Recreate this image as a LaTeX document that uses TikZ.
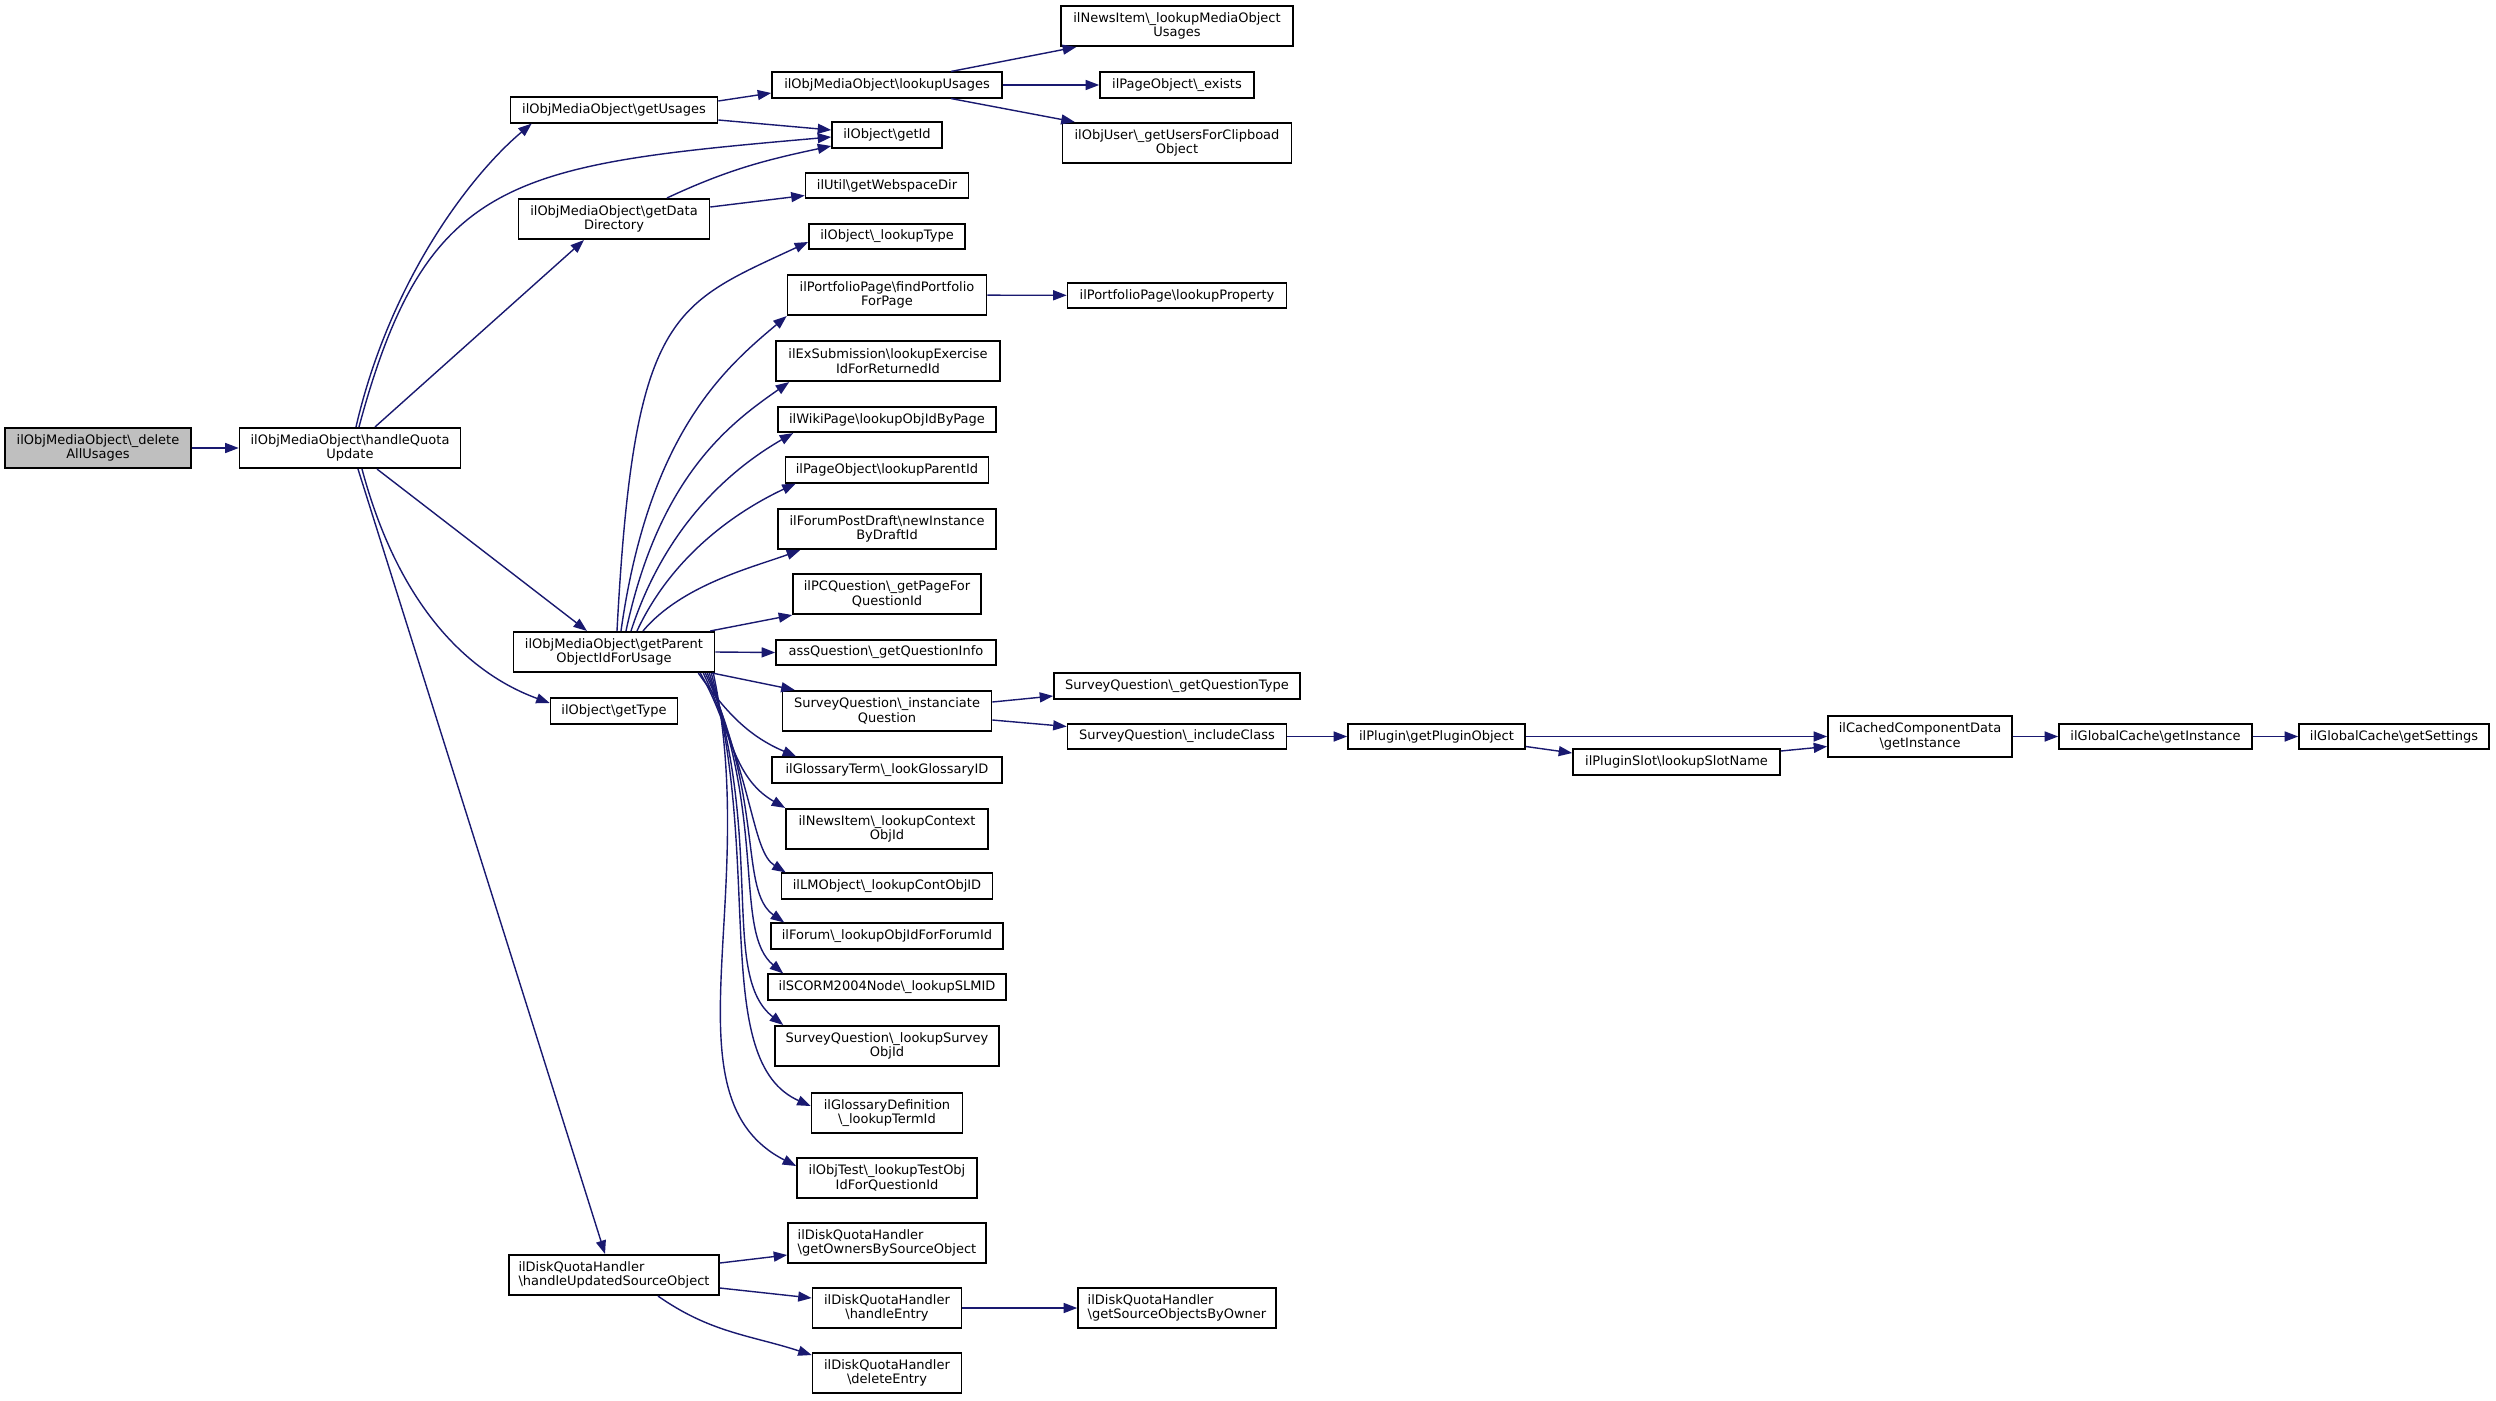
\documentclass[tikz,border=0pt]{standalone}
\usepackage{fontspec}
\setmainfont{DejaVu Sans}
\usepackage{xcolor}
\usepackage{tikz}
\usetikzlibrary{positioning,calc,arrows.meta}

\definecolor{edgeblue}{HTML}{191970}
\definecolor{rootgray}{HTML}{BFBFBF}
\newcommand{\bsl}{\textbackslash}

\tikzset{
  fn/.style={draw=black, line width=1.6pt, fill=white, font=\fontsize{13}{14.5}\selectfont,
    align=center, inner sep=0pt, minimum height=25.5pt},
  fnn/.style={fn, minimum height=40.5pt},
  call/.style={draw=edgeblue, line width=1.4pt, -{Triangle[length=13.5pt,width=10pt]}},
}

\begin{document}
\begin{tikzpicture}[x=1pt,y=1pt]
    \fill[white] (0,0) rectangle (2496,-1400);
    % Root and first level
    \node[fnn, fill=rootgray, minimum width=186pt] (del) at (98,-448) {ilObjMediaObject\bsl\_delete\\AllUsages};
    \node[fnn, minimum width=221pt] (hqu) at (350,-448) {ilObjMediaObject\bsl handleQuota\\Update};
    % Second level
    \node[fn, minimum width=207pt] (gus) at (614,-110) {ilObjMediaObject\bsl getUsages};
    \node[fnn, minimum width=191pt] (gdd) at (614,-219) {ilObjMediaObject\bsl getData\\Directory};
    \node[fnn, minimum width=201pt] (gpo) at (614,-652) {ilObjMediaObject\bsl getParent\\ObjectIdForUsage};
    \node[fn, minimum width=127pt] (gty) at (614,-711) {ilObject\bsl getType};
    \node[fnn, minimum width=210pt, align=left] (hus) at (614,-1275) {ilDiskQuotaHandler\\\bsl handleUpdatedSourceObject};
    % Third level
    \node[fn, minimum width=230pt] (lus) at (887,-85) {ilObjMediaObject\bsl lookupUsages};
    \node[fn, minimum width=110pt] (gid) at (887,-135) {ilObject\bsl getId};
    \node[fn, minimum width=163pt] (gwd) at (887,-185.5) {ilUtil\bsl getWebspaceDir};
    \node[fn, minimum width=156pt] (lty) at (887,-236.5) {ilObject\bsl\_lookupType};
    \node[fnn, minimum width=199pt] (fpp) at (887,-295) {ilPortfolioPage\bsl findPortfolio\\ForPage};
    \node[fnn, minimum width=224pt] (lex) at (888,-361) {ilExSubmission\bsl lookupExercise\\IdForReturnedId};
    \node[fn, minimum width=218pt] (lwp) at (887,-419.5) {ilWikiPage\bsl lookupObjIdByPage};
    \node[fn, minimum width=203pt] (lpi) at (887,-470) {ilPageObject\bsl lookupParentId};
    \node[fnn, minimum width=218pt] (ndi) at (887,-529) {ilForumPostDraft\bsl newInstance\\ByDraftId};
    \node[fnn, minimum width=188pt] (gpq) at (887,-594) {ilPCQuestion\bsl\_getPageFor\\QuestionId};
    \node[fn, minimum width=220pt] (aqi) at (886,-652.5) {assQuestion\bsl\_getQuestionInfo};
    \node[fnn, minimum width=209pt] (siq) at (887,-711) {SurveyQuestion\bsl\_instanciate\\Question};
    \node[fn, minimum width=230pt] (glt) at (887,-770) {ilGlossaryTerm\bsl\_lookGlossaryID};
    \node[fnn, minimum width=202pt] (nic) at (887,-829) {ilNewsItem\bsl\_lookupContext\\ObjId};
    \node[fn, minimum width=211pt] (lmo) at (887,-886) {ilLMObject\bsl\_lookupContObjID};
    \node[fn, minimum width=232pt] (fru) at (887,-936) {ilForum\bsl\_lookupObjIdForForumId};
    \node[fn, minimum width=238pt] (scm) at (887,-987) {ilSCORM2004Node\bsl\_lookupSLMID};
    \node[fnn, minimum width=224pt] (slo) at (887,-1046) {SurveyQuestion\bsl\_lookupSurvey\\ObjId};
    \node[fnn, minimum width=151pt] (gdl) at (887,-1113) {ilGlossaryDefinition\\\bsl\_lookupTermId};
    \node[fnn, minimum width=180pt] (otq) at (887,-1178) {ilObjTest\bsl\_lookupTestObj\\IdForQuestionId};
    \node[fnn, minimum width=198pt, align=left] (gob) at (887,-1243) {ilDiskQuotaHandler\\\bsl getOwnersBySourceObject};
    \node[fnn, minimum width=149pt] (hen) at (887,-1308) {ilDiskQuotaHandler\\\bsl handleEntry};
    \node[fnn, minimum width=149pt] (den) at (887,-1373) {ilDiskQuotaHandler\\\bsl deleteEntry};
    % Fourth level and beyond
    \node[fnn, minimum width=232pt] (nim) at (1177,-26) {ilNewsItem\bsl\_lookupMediaObject\\Usages};
    \node[fn, minimum width=154pt] (pex) at (1177,-85) {ilPageObject\bsl\_exists};
    \node[fnn, minimum width=229pt] (ous) at (1177,-143) {ilObjUser\bsl\_getUsersForClipboad\\Object};
    \node[fn, minimum width=219pt] (lpr) at (1177,-295.5) {ilPortfolioPage\bsl lookupProperty};
    \node[fn, minimum width=246pt] (sqt) at (1177,-686) {SurveyQuestion\bsl\_getQuestionType};
    \node[fn, minimum width=219pt] (sic) at (1177,-736.5) {SurveyQuestion\bsl\_includeClass};
    \node[fnn, minimum width=198pt, align=left] (gso) at (1177,-1308) {ilDiskQuotaHandler\\\bsl getSourceObjectsByOwner};
    \node[fn, minimum width=177pt] (gpl) at (1436.5,-736.5) {ilPlugin\bsl getPluginObject};
    \node[fn, minimum width=207pt] (lsn) at (1676.5,-762) {ilPluginSlot\bsl lookupSlotName};
    \node[fnn, minimum width=184pt] (ccd) at (1920,-736.5) {ilCachedComponentData\\\bsl getInstance};
    \node[fn, minimum width=193pt] (gci) at (2155.5,-736.5) {ilGlobalCache\bsl getInstance};
    \node[fn, minimum width=190pt] (gcs) at (2394,-736.5) {ilGlobalCache\bsl getSettings};

    % Calls of the root
    \draw[call] (del) -- (hqu);
    \draw[call] ([xshift=6pt]hqu.north) to[out=77,in=220,out distance=150pt,in distance=80pt] ([xshift=22pt]gus.south west);
    \draw[call] ([xshift=9pt]hqu.north) to[out=75,in=185,out distance=260pt,in distance=320pt] ([yshift=-2pt]gid.west);
    \draw[call] ([xshift=25pt]hqu.north) -- ([xshift=-30pt]gdd.south);
    \draw[call] ([xshift=27pt]hqu.south) -- ([xshift=-27pt]gpo.north);
    \draw[call] ([xshift=12pt]hqu.south) to[out=-75,in=160,out distance=150pt,in distance=80pt] ([yshift=8pt]gty.west);
    \draw[call] ([xshift=8pt]hqu.south) -- ([xshift=-9pt]hus.north);
    % getUsages, getDataDirectory, lookupUsages
    \draw[call] ([yshift=9pt]gus.east) -- ([yshift=-8pt]lus.west);
    \draw[call] ([yshift=-10pt]gus.east) -- ([yshift=5pt]gid.west);
    \draw[call] ([xshift=53pt]gdd.north) to[out=25,in=192] ([yshift=-11pt]gid.west);
    \draw[call] ([yshift=12pt]gdd.east) -- ([yshift=-10pt]gwd.west);
    \draw[call] ([xshift=64pt]lus.north) -- ([xshift=16pt]nim.south west);
    \draw[call] (lus) -- (pex);
    \draw[call] ([xshift=64pt]lus.south) -- ([xshift=13pt]ous.north west);
    % getParentObjectIdForUsage, upwards
    \draw[call] ([xshift=3pt]gpo.north) to[out=87,in=205,out distance=320pt,in distance=150pt] ([yshift=-5.5pt]lty.west);
    \draw[call] ([xshift=7pt]gpo.north) to[out=82,in=220,out distance=200pt,in distance=80pt] (fpp.south west);
    \draw[call] ([xshift=12pt]gpo.north) to[out=78,in=215,out distance=160pt,in distance=70pt] ([xshift=14pt]lex.south west);
    \draw[call] ([xshift=17pt]gpo.north) to[out=72,in=210,out distance=120pt,in distance=60pt] ([xshift=16pt]lwp.south west);
    \draw[call] ([xshift=23pt]gpo.north) to[out=65,in=205,out distance=90pt,in distance=55pt] ([xshift=11pt]lpi.south west);
    \draw[call] ([xshift=29pt]gpo.north) to[out=50,in=200,out distance=60pt,in distance=50pt] ([xshift=23pt]ndi.south west);
    \draw[call] ([xshift=-5pt]gpo.north east) -- (gpq.south west);
    \draw[call] (gpo.east) -- (aqi.west);
    \draw[call] ([xshift=-3pt]gpo.south east) -- ([xshift=13pt]siq.north west);
    % getParentObjectIdForUsage, downwards
    \draw[call] ([xshift=-17pt]gpo.south east) to[out=-55,in=157] ([xshift=25pt]glt.north west);
    \draw[call] ([xshift=-15pt]gpo.south east) to[out=-60,in=150] (nic.north west);
    \draw[call] ([xshift=-12pt]gpo.south east) to[out=-65,in=148,out distance=120pt,in distance=40pt] ([xshift=5pt]lmo.north west);
    \draw[call] ([xshift=-10pt]gpo.south east) to[out=-65,in=145,out distance=140pt,in distance=55pt] ([xshift=14pt]fru.north west);
    \draw[call] ([xshift=-8pt]gpo.south east) to[out=-68,in=140,out distance=160pt,in distance=65pt] ([xshift=16pt]scm.north west);
    \draw[call] ([xshift=-6pt]gpo.south east) to[out=-72,in=142,out distance=180pt,in distance=80pt] ([xshift=9pt]slo.north west);
    \draw[call] ([xshift=-4pt]gpo.south east) to[out=-75,in=156,out distance=200pt,in distance=110pt] ([yshift=7pt]gdl.west);
    \draw[call] ([xshift=-2pt]gpo.south east) to[out=-78,in=153,out distance=230pt,in distance=150pt] ([yshift=12pt]otq.west);
    % Portfolio, SurveyQuestion and plugin chain
    \draw[call] (fpp) -- (lpr);
    \draw[call] ([yshift=9pt]siq.east) -- ([yshift=-10pt]sqt.west);
    \draw[call] ([yshift=-9pt]siq.east) -- ([yshift=10pt]sic.west);
    \draw[call] (sic) -- (gpl);
    \draw[call] (gpl) -- (ccd);
    \draw[call] ([yshift=-10pt]gpl.east) -- ([yshift=9pt]lsn.west);
    \draw[call] ([yshift=11pt]lsn.east) -- ([yshift=-10pt]ccd.west);
    \draw[call] (ccd) -- (gci);
    \draw[call] (gci) -- (gcs);
    % Disk quota
    \draw[call] ([yshift=12pt]hus.east) -- ([yshift=-12pt]gob.west);
    \draw[call] ([yshift=-13pt]hus.east) -- ([yshift=10pt]hen.west);
    \draw[call] ([xshift=44pt]hus.south) to[out=-35,in=162] ([yshift=18pt]den.west);
    \draw[call] (hen) -- (gso);
\end{tikzpicture}
\end{document}
